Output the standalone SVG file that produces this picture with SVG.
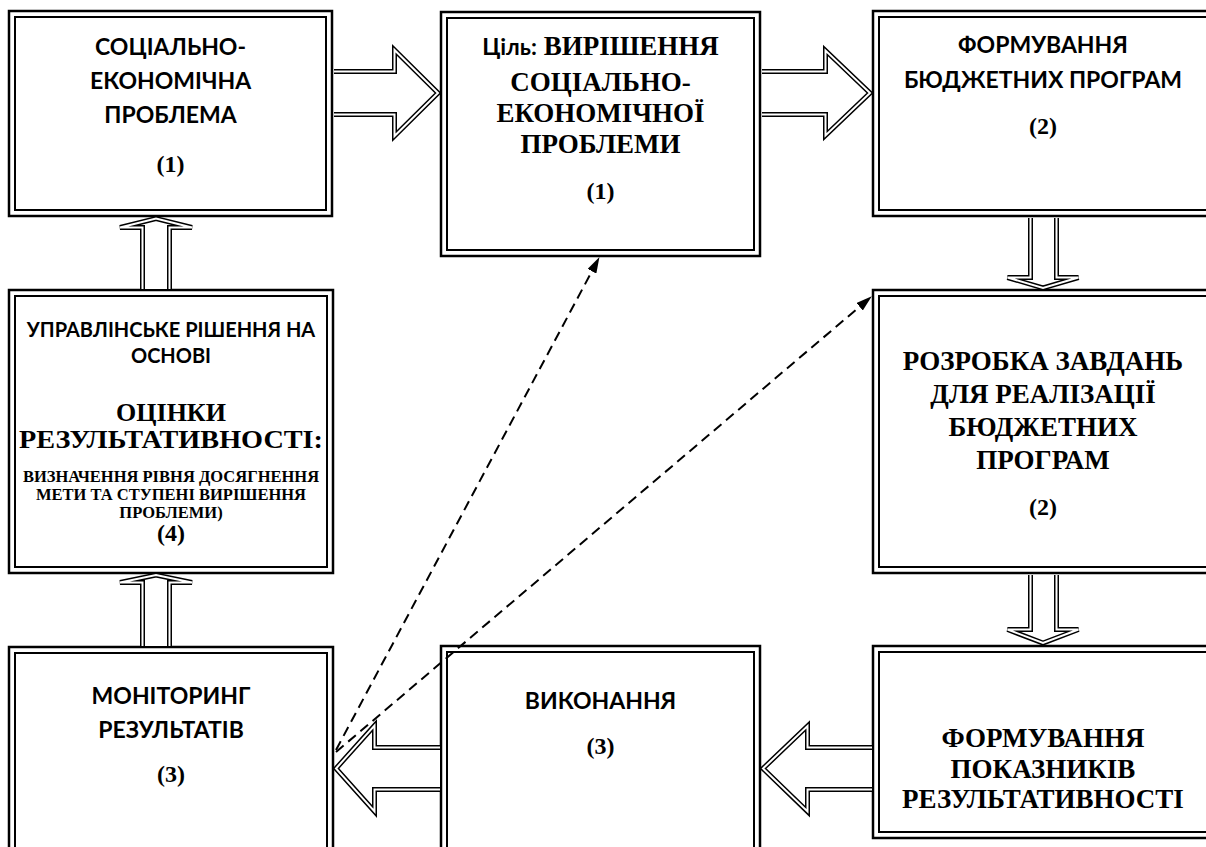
<svg xmlns="http://www.w3.org/2000/svg" width="1206" height="847" viewBox="0 0 1206 847">
  <defs>
    <style>
      .outer { fill: #fff; stroke: #000; stroke-width: 2.5; }
      .inner { fill: none; stroke: #000; stroke-width: 2; }
      .sans { font-family: Lato, "Liberation Sans", "Noto Sans", sans-serif; font-weight: bold; fill: #000; text-anchor: middle; }
      .serif { font-family: "Liberation Serif", "DejaVu Serif", serif; font-weight: bold; fill: #000; text-anchor: middle; }
      .big { font-size: 23px; }
      .mid { font-size: 20px; }
      .head { font-size: 27px; }
      .head2 { font-size: 26px; }
      .small { font-size: 16.5px; }
      .num { font-size: 24px; }
      .block-out { fill: #fff; stroke: #000; stroke-width: 5; stroke-linejoin: miter; }
      .block-in { fill: none; stroke: #fff; stroke-width: 2; stroke-linejoin: miter; }
      .dash { fill: none; stroke: #000; stroke-width: 2; stroke-dasharray: 10 6; marker-end: url(#tri); }
    </style>
    <marker id="tri" viewBox="0 0 16 10" refX="15" refY="5" markerWidth="16" markerHeight="10" markerUnits="userSpaceOnUse" orient="auto">
      <path d="M0,0 L16,5 L0,10 Z" fill="#000"/>
    </marker>
  </defs>

  <rect width="1206" height="847" fill="#fff"/>

  <!-- nodes -->
  <g id="node-problem">
    <rect class="outer" x="9" y="11" width="323" height="205"/>
    <rect class="inner" x="15" y="17" width="311" height="193"/>
    <text class="sans big" x="170.5" y="55">СОЦІАЛЬНО-</text>
    <text class="sans big" x="170.5" y="89">ЕКОНОМІЧНА</text>
    <text class="sans big" x="170.5" y="123">ПРОБЛЕМА</text>
    <text class="serif num" x="170.5" y="172">(1)</text>
  </g>

  <g id="node-goal">
    <rect class="outer" x="441" y="12" width="319" height="244"/>
    <rect class="inner" x="447" y="18" width="307" height="232"/>
    <text class="serif head" x="600.5" y="55"><tspan class="sans big">Ціль:</tspan> ВИРІШЕННЯ</text>
    <text class="serif head" x="600.5" y="91">СОЦІАЛЬНО-</text>
    <text class="serif head" x="600.5" y="122">ЕКОНОМІЧНОЇ</text>
    <text class="serif head" x="600.5" y="153">ПРОБЛЕМИ</text>
    <text class="serif num" x="600.5" y="199">(1)</text>
  </g>

  <g id="node-programs">
    <rect class="outer" x="873" y="11" width="341" height="205"/>
    <rect class="inner" x="879" y="17" width="329" height="193"/>
    <text class="sans big" x="1043" y="53">ФОРМУВАННЯ</text>
    <text class="sans big" x="1043" y="88">БЮДЖЕТНИХ ПРОГРАМ</text>
    <text class="serif num" x="1043" y="134">(2)</text>
  </g>

  <g id="node-decision">
    <rect class="outer" x="9" y="290" width="324" height="283"/>
    <rect class="inner" x="15" y="296" width="312" height="271"/>
    <text class="sans mid" x="171" y="337">УПРАВЛІНСЬКЕ РІШЕННЯ НА</text>
    <text class="sans mid" x="171" y="363">ОСНОВІ</text>
    <text class="serif head2" x="171" y="421">ОЦІНКИ</text>
    <text class="serif head2" x="171" y="448" textLength="304" lengthAdjust="spacingAndGlyphs">РЕЗУЛЬТАТИВНОСТІ:</text>
    <text class="serif small" x="171" y="482">ВИЗНАЧЕННЯ РІВНЯ ДОСЯГНЕННЯ</text>
    <text class="serif small" x="171" y="500">МЕТИ ТА СТУПЕНІ ВИРІШЕННЯ</text>
    <text class="serif small" x="171" y="518">ПРОБЛЕМИ)</text>
    <text class="serif num" x="171" y="541">(4)</text>
  </g>

  <g id="node-tasks">
    <rect class="outer" x="873" y="290" width="341" height="283"/>
    <rect class="inner" x="879" y="296" width="329" height="271"/>
    <text class="serif head" x="1043" y="370">РОЗРОБКА ЗАВДАНЬ</text>
    <text class="serif head" x="1043" y="403">ДЛЯ РЕАЛІЗАЦІЇ</text>
    <text class="serif head" x="1043" y="436">БЮДЖЕТНИХ</text>
    <text class="serif head" x="1043" y="469">ПРОГРАМ</text>
    <text class="serif num" x="1043" y="515">(2)</text>
  </g>

  <g id="node-monitoring">
    <rect class="outer" x="9" y="647" width="324" height="220"/>
    <rect class="inner" x="15" y="653" width="312" height="208"/>
    <text class="sans big" x="171" y="704">МОНІТОРИНГ</text>
    <text class="sans big" x="171" y="738">РЕЗУЛЬТАТІВ</text>
    <text class="serif num" x="171" y="782">(3)</text>
  </g>

  <g id="node-execution">
    <rect class="outer" x="441" y="646" width="319" height="220"/>
    <rect class="inner" x="447" y="652" width="307" height="208"/>
    <text class="sans big" x="600.5" y="709">ВИКОНАННЯ</text>
    <text class="serif num" x="600.5" y="754">(3)</text>
  </g>

  <g id="node-indicators">
    <rect class="outer" x="873" y="646" width="341" height="192"/>
    <rect class="inner" x="879" y="652" width="329" height="180"/>
    <text class="serif head" x="1043" y="747">ФОРМУВАННЯ</text>
    <text class="serif head" x="1043" y="778">ПОКАЗНИКІВ</text>
    <text class="serif head" x="1043" y="808">РЕЗУЛЬТАТИВНОСТІ</text>
  </g>

  <!-- connectors: hollow block arrows and dashed feedback links -->
  <g id="connectors">
    <g id="arrow-problem-goal">
      <path class="block-out" d="M334,71.5 H394.5 V50 L438,93 L394.5,136 V114.5 H334"/>
      <path class="block-in" d="M334,71.5 H394.5 V50 L438,93 L394.5,136 V114.5 H334"/>
    </g>
    <g id="arrow-goal-programs">
      <path class="block-out" d="M762,71.5 H825.5 V50.5 L870,93 L825.5,135.5 V114.5 H762"/>
      <path class="block-in" d="M762,71.5 H825.5 V50.5 L870,93 L825.5,135.5 V114.5 H762"/>
    </g>
    <g id="arrow-programs-tasks">
      <path class="block-out" d="M1030.5,218 V277.5 H1007.5 L1043,288 L1078.5,277.5 H1056.5 V218"/>
      <path class="block-in" d="M1030.5,218 V277.5 H1007.5 L1043,288 L1078.5,277.5 H1056.5 V218"/>
    </g>
    <g id="arrow-tasks-indicators">
      <path class="block-out" d="M1030.5,575 V629.5 H1007.5 L1043,643 L1078.5,629.5 H1056.5 V575"/>
      <path class="block-in" d="M1030.5,575 V629.5 H1007.5 L1043,643 L1078.5,629.5 H1056.5 V575"/>
    </g>
    <g id="arrow-indicators-execution">
      <path class="block-out" d="M872,747.5 H807.5 V726 L763,768.5 L807.5,811.5 V789.5 H872"/>
      <path class="block-in" d="M872,747.5 H807.5 V726 L763,768.5 L807.5,811.5 V789.5 H872"/>
    </g>
    <g id="arrow-execution-monitoring">
      <path class="block-out" d="M440,747.5 H374.5 V725.5 L336,768.5 L374.5,811.5 V789.5 H440"/>
      <path class="block-in" d="M440,747.5 H374.5 V725.5 L336,768.5 L374.5,811.5 V789.5 H440"/>
    </g>
    <g id="arrow-monitoring-decision">
      <path class="block-out" d="M142.5,646 V582.5 H120 L156,575 L192,582.5 H169.5 V646"/>
      <path class="block-in" d="M142.5,646 V582.5 H120 L156,575 L192,582.5 H169.5 V646"/>
    </g>
    <g id="arrow-decision-problem">
      <path class="block-out" d="M142.5,289 V227.5 H120 L156,218.5 L192,227.5 H169.5 V289"/>
      <path class="block-in" d="M142.5,289 V227.5 H120 L156,218.5 L192,227.5 H169.5 V289"/>
    </g>
    <line class="dash" x1="336" y1="750" x2="599" y2="258"/>
    <line class="dash" x1="336" y1="752" x2="871" y2="297"/>
  </g>
</svg>
